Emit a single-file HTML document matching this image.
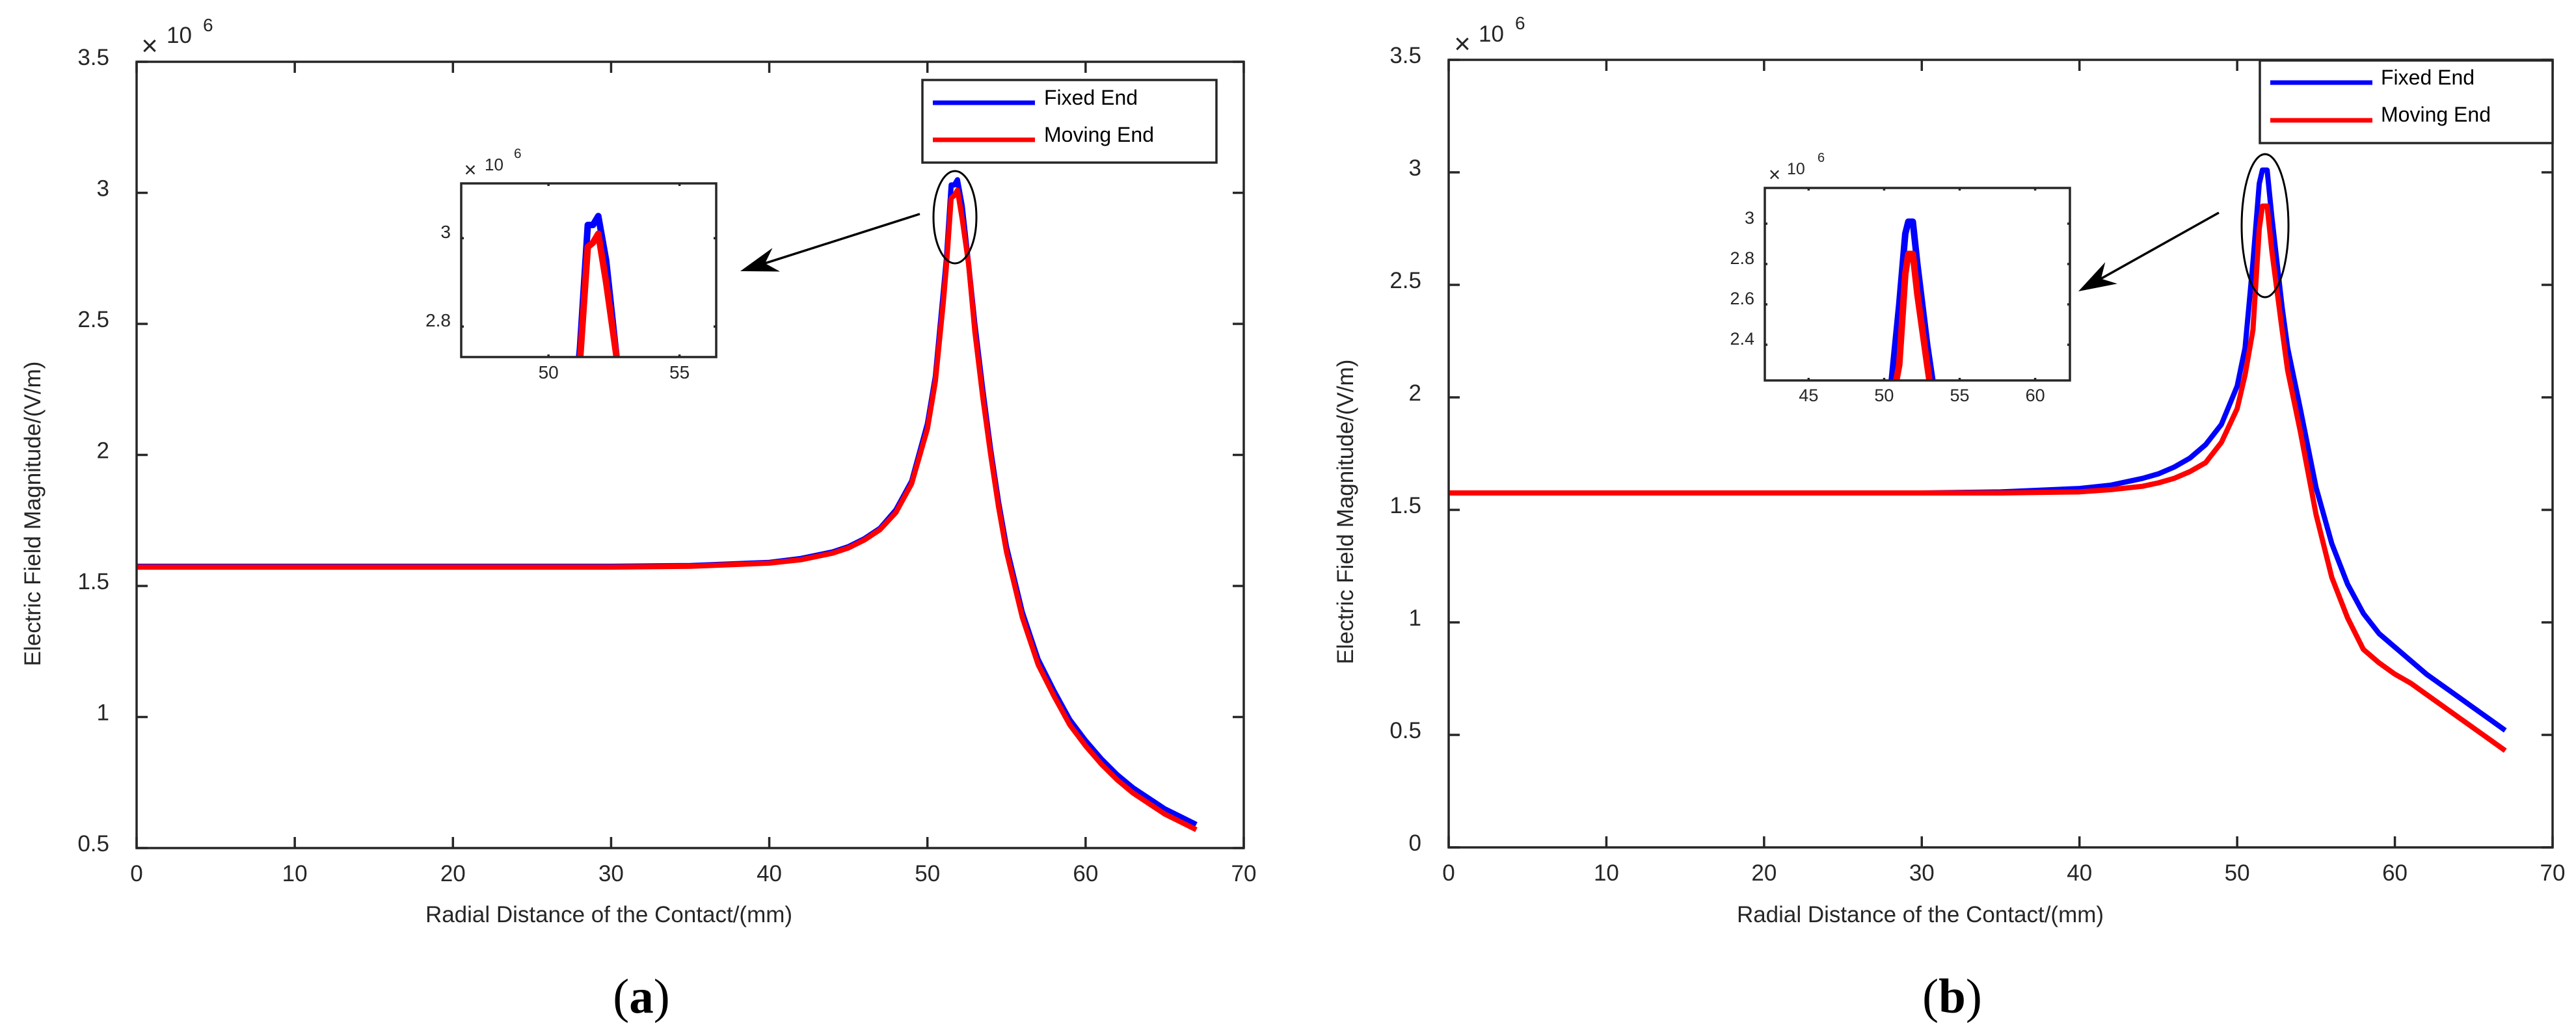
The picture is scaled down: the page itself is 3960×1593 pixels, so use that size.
<!DOCTYPE html>
<html><head><meta charset="utf-8"><style>
html,body{margin:0;padding:0;background:#fff;width:3960px;height:1593px;overflow:hidden;}
svg{display:block;}
text{font-family:"Liberation Sans",Arial,sans-serif;fill:#262626;}
</style></head><body>
<svg id="fig" width="3960" height="1593" viewBox="0 0 3960 1593" xmlns="http://www.w3.org/2000/svg"></svg>
<script>
// ===== Data: panel (a) =====
const xA = [0,10,20,30,35,40,42,44,45,46,47,48,49,50,50.5,51,51.2,51.5,51.7,51.9,52.2,52.6,53,53.5,54,54.5,55,56,57,58,59,60,61,62,63,64,65,66,67];
const fixedA = [1.575,1.575,1.575,1.575,1.578,1.59,1.605,1.63,1.65,1.68,1.72,1.79,1.9,2.12,2.3,2.62,2.75,3.03,3.03,3.05,2.95,2.73,2.5,2.25,2.02,1.82,1.65,1.4,1.22,1.1,0.99,0.91,0.84,0.78,0.73,0.69,0.65,0.62,0.59];
const movingA = [1.572,1.572,1.572,1.572,1.575,1.587,1.6,1.625,1.645,1.675,1.715,1.78,1.89,2.1,2.28,2.58,2.72,2.98,2.99,3.01,2.9,2.73,2.47,2.22,2.0,1.8,1.63,1.38,1.2,1.08,0.97,0.89,0.82,0.76,0.71,0.67,0.63,0.6,0.57];
// ===== Data: panel (b) =====
const xB = [0,10,20,30,35,40,42,44,45,46,47,48,49,50,50.5,51,51.4,51.6,51.9,52.2,52.85,53.2,54,55,56,57,58,59,60,61,62,63,64,65,66,67];
const fixedB = [1.575,1.575,1.575,1.575,1.58,1.595,1.61,1.64,1.66,1.69,1.73,1.79,1.88,2.05,2.22,2.6,2.95,3.01,3.01,2.8,2.4,2.22,1.95,1.6,1.35,1.17,1.04,0.95,0.89,0.83,0.77,0.72,0.67,0.62,0.57,0.52];
const movingB = [1.575,1.575,1.575,1.575,1.575,1.58,1.59,1.605,1.62,1.64,1.67,1.71,1.8,1.95,2.1,2.3,2.75,2.85,2.85,2.65,2.3,2.12,1.85,1.48,1.2,1.02,0.88,0.82,0.77,0.73,0.68,0.63,0.58,0.53,0.48,0.43];
// ===== Tick labels =====
const mainXTicks = [0,10,20,30,40,50,60,70];
const yTicksA = [0.5,1,1.5,2,2.5,3,3.5];
const yTicksB = [0,0.5,1,1.5,2,2.5,3,3.5];
const insetXTicksA = [50,55];
const insetYTicksA = [2.8,3];
const insetXTicksB = [45,50,55,60];
const insetYTicksB = [2.4,2.6,2.8,3];
const seriesNames = ["Fixed End","Moving End"];

const NS = "http://www.w3.org/2000/svg";
const svg = document.getElementById('fig');
function mk(tag, attrs, parent){
  const e = document.createElementNS(NS, tag);
  for (const k in attrs) e.setAttribute(k, attrs[k]);
  (parent||svg).appendChild(e);
  return e;
}
function txt(s, attrs, parent){ const t = mk('text', attrs, parent); t.textContent = s; return t; }
function fmt(v){ return String(v); }

const AX = '#262626';
let clipId = 0;

function drawPanel(P){
  const g = mk('g', {});
  
  
  const box = P.box;
  const sx = v => box.l + (v - P.xd[0]) / (P.xd[1] - P.xd[0]) * (box.r - box.l);
  const sy = v => box.b - (v - P.yd[0]) / (P.yd[1] - P.yd[0]) * (box.b - box.t);
  const cid = 'clip' + (clipId++);
  const cp = mk('clipPath', {id: cid}, g);
  mk('rect', {x: box.l, y: box.t, width: box.r - box.l, height: box.b - box.t}, cp);
  const sg = mk('g', {'clip-path': 'url(#' + cid + ')'}, g);
  const cols = ['#0000ff', '#ff0000'];
  P.series.forEach((s, i) => {
    const d = P.x.map((xv, j) => (j ? 'L' : 'M') + sx(xv).toFixed(2) + ',' + sy(s[j]).toFixed(2)).join(' ');
    const p = mk('path', {d: d, fill: 'none', stroke: cols[i], 'stroke-width': P.lw, 'stroke-linejoin': 'round', 'stroke-linecap': 'butt'}, sg);
    
    
  });
  const fr = mk('rect', {x: box.l, y: box.t, width: box.r - box.l, height: box.b - box.t, fill: 'none', stroke: AX, 'stroke-width': P.aw}, g);
  
  
  P.xt.forEach(v => {
    const x = sx(v);
    mk('line', {x1: x, y1: box.b, x2: x, y2: box.b - P.tl, stroke: AX, 'stroke-width': P.aw}, g);
    mk('line', {x1: x, y1: box.t, x2: x, y2: box.t + P.tl, stroke: AX, 'stroke-width': P.aw}, g);
    const t = txt(fmt(v), {x: x, y: box.b + P.xlOff, 'font-size': P.fs, 'text-anchor': 'middle'}, g);
    
    
  });
  P.yt.forEach(v => {
    const y = sy(v);
    mk('line', {x1: box.l, y1: y, x2: box.l + P.tl, y2: y, stroke: AX, 'stroke-width': P.aw}, g);
    mk('line', {x1: box.r, y1: y, x2: box.r - P.tl, y2: y, stroke: AX, 'stroke-width': P.aw}, g);
    const t = txt(fmt(v), {x: box.l - P.ylGap, y: y + P.ylOff, 'font-size': P.fs, 'text-anchor': 'end'}, g);
    
    
  });
  const ex = P.exp;
  const e1 = txt('×', {x: ex.x, y: ex.y, 'font-size': ex.fs * 1.25, 'text-anchor': 'middle'}, g);
  
  
  const e2 = txt('10', {x: ex.x10, y: ex.y10, 'font-size': ex.fs}, g);
  
  
  const e3 = txt('6', {x: ex.x6, y: ex.y6, 'font-size': ex.fs * 0.8}, g);
  
  
  return g;
}

function drawInsetBg(box){
  const r = mk('rect', {x: box.l, y: box.t, width: box.r - box.l, height: box.b - box.t, fill: '#fff'});
  
  
}

function drawLegend(L){
  const g = mk('g', {});
  
  
  mk('rect', {x: L.l, y: L.t, width: L.r - L.l, height: L.b - L.t, fill: '#fff', stroke: AX, 'stroke-width': 3.5}, g);
  const cols = ['#0000ff', '#ff0000'];
  seriesNames.forEach((n, i) => {
    const e = mk('g', {}, g);
    
    
    mk('line', {x1: L.lx1, x2: L.lx2, y1: L.ly[i], y2: L.ly[i], stroke: cols[i], 'stroke-width': 7}, e);
    txt(n, {x: L.tx, y: L.ty[i], 'font-size': 32, style: 'fill:#000'}, e);
  });
}

function drawAnnot(a){
  const g = mk('g', {});
  
  
  mk('ellipse', {cx: a.cx, cy: a.cy, rx: a.rx, ry: a.ry, fill: 'none', stroke: '#000', 'stroke-width': 3}, g);
  const dx = a.x2 - a.x1, dy = a.y2 - a.y1, len = Math.hypot(dx, dy);
  const ux = dx / len, uy = dy / len, px = -uy, py = ux;
  const L = 58, W = 19, N = 40;
  const bx = a.x2 - ux * L, by = a.y2 - uy * L;
  const nx = a.x2 - ux * N, ny = a.y2 - uy * N;
  mk('line', {x1: a.x1, y1: a.y1, x2: nx, y2: ny, stroke: '#000', 'stroke-width': 3.5}, g);
  mk('path', {d: `M${a.x2},${a.y2} L${bx + px * W},${by + py * W} L${nx},${ny} L${bx - px * W},${by - py * W} Z`, fill: '#000'}, g);
}

function label(s, attrs, name){
  const t = txt(s, attrs);
  
  
  return t;
}

// ===== Panel (a) =====
drawPanel({name: 'panel-a', box: {l: 210, r: 1912, t: 95, b: 1304}, xd: [0, 70], yd: [0.5, 3.5],
  x: xA, series: [fixedA, movingA], xt: mainXTicks, yt: yTicksA, lw: 8, aw: 3.5, tl: 17, fs: 35,
  xlOff: 51, ylGap: 42, ylOff: 5, exp: {x: 230, y: 85, fs: 35, x10: 256, y10: 66, x6: 312, y6: 48}});
drawLegend({l: 1418, r: 1870, t: 123, b: 250, lx1: 1434, lx2: 1591, ly: [158, 215], tx: 1605, ty: [161, 218]});
drawAnnot({cx: 1468, cy: 334, rx: 33, ry: 71, x1: 1414, y1: 329, x2: 1138, y2: 417});
drawInsetBg({l: 709, r: 1101, t: 282, b: 549});
drawPanel({name: 'inset-a', box: {l: 709, r: 1101, t: 282, b: 549}, xd: [46.67, 56.4], yd: [2.731, 3.124],
  x: xA, series: [fixedA, movingA], xt: insetXTicksA, yt: insetYTicksA, lw: 10, aw: 3.5, tl: 4, fs: 28,
  xlOff: 33, ylGap: 16, ylOff: 0, exp: {x: 723, y: 272, fs: 26, x10: 745, y10: 262, x6: 790, y6: 243}});
label('Electric Field Magnitude/(V/m)', {x: 0, y: 0, 'font-size': 35, 'text-anchor': 'middle', transform: 'translate(62,790) rotate(-90)'}, 'y-axis-title-a');
label('Radial Distance of the Contact/(mm)', {x: 936, y: 1418, 'font-size': 35, 'text-anchor': 'middle'}, 'x-axis-title-a');
const ca = label('', {x: 986, y: 1557, 'font-size': 75, 'text-anchor': 'middle', style: 'font-family:"Liberation Serif",serif;fill:#000'}, 'panel-label-a');
const s1 = mk('tspan', {}, ca); s1.textContent = '(';
const s2 = mk('tspan', {'font-weight': 'bold'}, ca); s2.textContent = 'a';
const s3 = mk('tspan', {}, ca); s3.textContent = ')';

// ===== Panel (b) =====
drawPanel({name: 'panel-b', box: {l: 2227, r: 3924, t: 92, b: 1303}, xd: [0, 70], yd: [0, 3.5],
  x: xB, series: [fixedB, movingB], xt: mainXTicks, yt: yTicksB, lw: 8, aw: 3.5, tl: 17, fs: 35,
  xlOff: 51, ylGap: 42, ylOff: 5, exp: {x: 2248, y: 82, fs: 35, x10: 2273, y10: 64, x6: 2329, y6: 45}});
drawLegend({l: 3474, r: 3924, t: 93, b: 220, lx1: 3490, lx2: 3647, ly: [127, 185], tx: 3660, ty: [130, 187]});
drawAnnot({cx: 3482, cy: 347, rx: 36, ry: 110, x1: 3411, y1: 327, x2: 3195, y2: 448});
drawInsetBg({l: 2713, r: 3182, t: 289, b: 585});
drawPanel({name: 'inset-b', box: {l: 2713, r: 3182, t: 289, b: 585}, xd: [42.1, 62.3], yd: [2.223, 3.177],
  x: xB, series: [fixedB, movingB], xt: insetXTicksB, yt: insetYTicksB, lw: 10, aw: 3.5, tl: 4, fs: 27,
  xlOff: 32, ylGap: 16, ylOff: 0, exp: {x: 2728, y: 279, fs: 25, x10: 2747, y10: 268, x6: 2794, y6: 249}});
label('Electric Field Magnitude/(V/m)', {x: 0, y: 0, 'font-size': 35, 'text-anchor': 'middle', transform: 'translate(2080,787) rotate(-90)'}, 'y-axis-title-b');
label('Radial Distance of the Contact/(mm)', {x: 2952, y: 1418, 'font-size': 35, 'text-anchor': 'middle'}, 'x-axis-title-b');
const cb = label('', {x: 3001, y: 1557, 'font-size': 75, 'text-anchor': 'middle', style: 'font-family:"Liberation Serif",serif;fill:#000'}, 'panel-label-b');
const b1 = mk('tspan', {}, cb); b1.textContent = '(';
const b2 = mk('tspan', {'font-weight': 'bold'}, cb); b2.textContent = 'b';
const b3 = mk('tspan', {}, cb); b3.textContent = ')';
</script>
</body></html>
